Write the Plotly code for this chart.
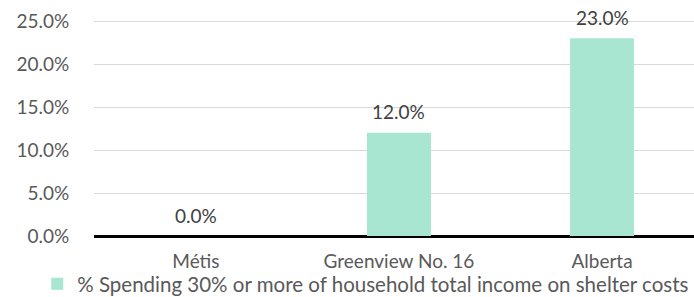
import plotly.graph_objects as go

categories = ["Métis", "Greenview No. 16", "Alberta"]
values = [0.0, 12.0, 23.0]
series_name = "% Spending 30% or more of household total income on shelter costs"
y_tick_vals = [0, 5, 10, 15, 20, 25]
y_tick_text = ["0.0%", "5.0%", "10.0%", "15.0%", "20.0%", "25.0%"]

FONT = "Lato, 'Open Sans', sans-serif"
BAR = "#A8E6D1"

fig = go.Figure()
fig.add_trace(go.Bar(
    x=categories, y=values, name=series_name,
    marker=dict(color=BAR, line=dict(width=0)),
    width=0.315, showlegend=True,
))

for c, v in zip(categories, values):
    fig.add_annotation(x=c, y=v, text=f"{v:.1f}%", showarrow=False,
                       yanchor="middle", yshift=21,
                       font=dict(family=FONT, size=19, color="#404040"))

fig.update_layout(
    width=694, height=297,
    margin=dict(l=94, r=0, t=15, b=61, autoexpand=False),
    paper_bgcolor="white", plot_bgcolor="white",
    font=dict(family=FONT, size=19, color="#595959"),
    showlegend=True,
    legend=dict(orientation="h", xref="container", yref="container",
                x=0.527, xanchor="center", y=0.044, yanchor="middle",
                bgcolor="rgba(0,0,0,0)",
                font=dict(family=FONT, size=20.5, color="#595959"),
                itemwidth=30, tracegroupgap=0),
    xaxis=dict(range=[-0.502, 2.453], showgrid=False, showline=False,
               ticks="outside", ticklen=8, tickcolor="rgba(0,0,0,0)",
               tickfont=dict(family=FONT, size=19, color="#595959")),
    yaxis=dict(range=[0, 25.7], tickvals=y_tick_vals, ticktext=y_tick_text,
               showgrid=True, gridcolor="#D9D9D9", gridwidth=1,
               zeroline=True, zerolinecolor="black", zerolinewidth=3,
               showline=False, ticks="outside", ticklen=20,
               tickcolor="rgba(0,0,0,0)",
               tickfont=dict(family=FONT, size=19, color="#595959")),
)

fig.write_html("out.html", config={"displayModeBar": False},
               post_script="document.body.style.margin='0';")
